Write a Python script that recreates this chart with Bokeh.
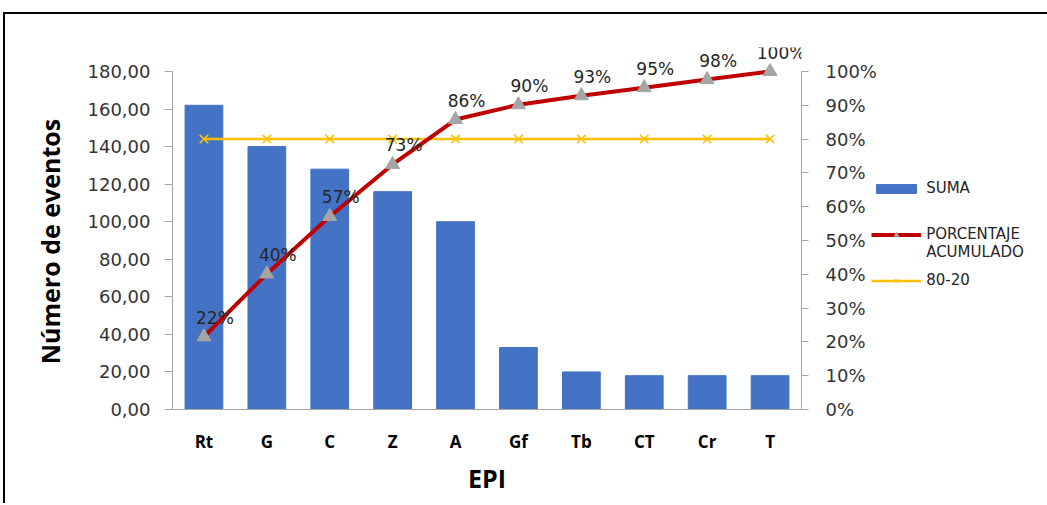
from bokeh.plotting import figure
from bokeh.models import (ColumnDataSource, Range1d, FactorRange, LinearAxis, FixedTicker,
                          Legend, LegendItem, NumeralTickFormatter)
from bokeh.core.properties import value
from bokeh.embed import file_html
from bokeh.resources import INLINE

# ---- data ----
categories = ["Rt", "G", "C", "Z", "A", "Gf", "Tb", "CT", "Cr", "T"]
suma = [162, 140, 128, 116, 100, 33, 20, 18, 18, 18]
linea_80_20 = [0.8, 0.8, 0.8, 0.8, 0.8, 0.8, 0.8, 0.8, 0.8, 0.8]
left_ticks = [0, 20, 40, 60, 80, 100, 120, 140, 160, 180]
left_tick_labels = ["0,00", "20,00", "40,00", "60,00", "80,00", "100,00",
                    "120,00", "140,00", "160,00", "180,00"]
right_ticks = [0, 0.1, 0.2, 0.3, 0.4, 0.5, 0.6, 0.7, 0.8, 0.9, 1.0]

total = sum(suma)
acum = []
run = 0
for v in suma:
    run += v
    acum.append(run / total)
acum_labels = [f"{round(a * 100)}%" for a in acum]

src = ColumnDataSource(dict(cat=categories, suma=suma, acum=acum,
                            lab=acum_labels, l8020=linea_80_20))

TICK_FONT = "DejaVu Sans"
BOLD_FONT = "Open Sans"
NB = "\u00a0"

AXIS_H = 338          # pixel height of the 0..180 axis
EXTRA = 24            # free room above the axis for the data labels
FH = AXIS_H + EXTRA

p = figure(x_range=FactorRange(*categories, range_padding=0),
           y_range=Range1d(0, 180 * FH / AXIS_H),
           frame_width=629, frame_height=FH,
           min_border_left=167, min_border_right=10,
           min_border_top=33, min_border_bottom=94,
           output_backend="svg", toolbar_location=None)
p.extra_y_ranges = {"pct": Range1d(0, FH / AXIS_H)}
p.outline_line_color = None
p.xgrid.visible = False
p.ygrid.visible = False
p.styles = {"margin-left": "3px", "margin-top": "12px",
            "border-top": "2px solid black", "border-left": "2px solid black"}

bars = p.vbar(x="cat", top="suma", width=0.6, source=src,
              fill_color="#4472C4", line_color="#4472C4")
yl = p.line(x="cat", y="l8020", source=src, y_range_name="pct",
            line_color="#FFC000", line_width=2.5)
ym = p.scatter(x="cat", y="l8020", source=src, y_range_name="pct",
               marker="x", size=12, line_color="#FFC000", line_width=1.5)
rl = p.line(x="cat", y="acum", source=src, y_range_name="pct",
            line_color="#C00000", line_width=4)
rm = p.scatter(x="cat", y="acum", source=src, y_range_name="pct",
               marker="triangle", size=14, fill_color="#A5A5A5", line_color="#A5A5A5")
p.text(x="cat", y="acum", text="lab", source=src, y_range_name="pct",
       x_offset=11, y_offset=-9, text_align="center", text_baseline="bottom",
       text_font=value(TICK_FONT), text_font_size="17px", text_color="#262626")

# left axis
la = p.yaxis[0]
la.bounds = (0, 180)
la.ticker = FixedTicker(ticks=left_ticks)
la.major_label_overrides = {t: s for t, s in zip(left_ticks, left_tick_labels)}
la.axis_label = "Número de eventos" + NB * 4
la.axis_label_text_font = BOLD_FONT
la.axis_label_text_font_style = "bold"
la.axis_label_text_font_size = "25px"
la.axis_label_text_color = "#000000"
la.axis_label_standoff = 18
la.major_label_text_font = TICK_FONT
la.major_label_text_font_size = "18px"
la.major_label_text_color = "#333333"
la.major_label_standoff = 14
la.axis_line_color = "#A6A6A6"
la.major_tick_line_color = "#A6A6A6"
la.major_tick_out = 8
la.major_tick_in = 0
la.minor_tick_line_color = None

# right axis
ra = LinearAxis(y_range_name="pct", ticker=FixedTicker(ticks=right_ticks),
                formatter=NumeralTickFormatter(format="0%"), bounds=(0, 1))
ra.major_label_text_font = TICK_FONT
ra.major_label_text_font_size = "18px"
ra.major_label_text_color = "#333333"
ra.major_label_standoff = 17
ra.axis_line_color = "#A6A6A6"
ra.major_tick_line_color = "#A6A6A6"
ra.major_tick_out = 7
ra.major_tick_in = 0
ra.minor_tick_line_color = None
p.add_layout(ra, "right")

# bottom axis
xa = p.xaxis[0]
xa.axis_label = "EPI"
xa.axis_label_text_font = BOLD_FONT
xa.axis_label_text_font_style = "bold"
xa.axis_label_text_font_size = "25px"
xa.axis_label_text_color = "#000000"
xa.axis_label_standoff = 5
xa.major_label_text_font = BOLD_FONT
xa.major_label_text_font_style = "bold"
xa.major_label_text_font_size = "17px"
xa.major_label_text_color = "#000000"
xa.major_label_standoff = 20
xa.axis_line_color = "#A6A6A6"
xa.major_tick_line_color = None
xa.major_tick_out = 0
xa.major_tick_in = 0

legend = Legend(items=[
    LegendItem(label="SUMA", renderers=[bars]),
    LegendItem(label=NB + "\nPORCENTAJE\nACUMULADO", renderers=[rl, rm]),
    LegendItem(label="80-20", renderers=[yl, ym]),
], location=(-234, 119))
legend.glyph_width = 50
legend.glyph_height = 11
legend.label_height = 20
legend.label_text_font = TICK_FONT
legend.label_text_font_size = "15px"
legend.label_text_line_height = 1.3
legend.label_text_color = "#262626"
legend.padding = 0
legend.margin = 0
legend.spacing = 9
legend.border_line_color = None
legend.background_fill_alpha = 0
legend.label_standoff = 5
p.add_layout(legend, "right")

open("out.html", "w").write(file_html(p, INLINE))
